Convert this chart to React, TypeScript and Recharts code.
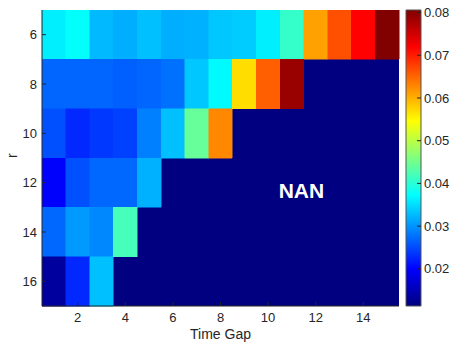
import React from "react";
import { ComposedChart, XAxis, YAxis, ReferenceArea, ReferenceDot, Scatter } from "recharts";

// grid: rows are r, columns are time gap 1..15, null = NaN
const timeGaps = [1, 2, 3, 4, 5, 6, 7, 8, 9, 10, 11, 12, 13, 14, 15];
const rValues = [6, 8, 10, 12, 14, 16];
const row6 = [0.0362, 0.0375, 0.0325, 0.0318, 0.033, 0.0318, 0.032, 0.0335, 0.0338, 0.0362, 0.0408, 0.061, 0.0666, 0.0719, 0.0805];
const row8 = [0.0269, 0.0269, 0.0269, 0.0265, 0.0269, 0.0276, 0.0335, 0.037, 0.0569, 0.0655, 0.0789, null, null, null, null];
const row10 = [0.0254, 0.0227, 0.0238, 0.0243, 0.0286, 0.033, 0.0442, 0.0627, null, null, null, null, null, null, null];
const row12 = [0.0198, 0.0254, 0.027, 0.027, 0.032, null, null, null, null, null, null, null, null, null, null];
const row14 = [0.027, 0.0304, 0.0292, 0.042, null, null, null, null, null, null, null, null, null, null, null];
const row16 = [0.0134, 0.0227, 0.033, null, null, null, null, null, null, null, null, null, null, null, null];
const rows = [row6, row8, row10, row12, row14, row16];

const xTicks = [2, 4, 6, 8, 10, 12, 14];
const yTicks = [6, 8, 10, 12, 14, 16];
const cbTicks = [0.02, 0.03, 0.04, 0.05, 0.06, 0.07, 0.08];
const C_MIN = 0.0113;
const C_MAX = 0.0806;
const NAN_LABEL = "NAN";
const nanSpot = { x: 11.4, y: 12.32 };

const AXIS = "#262626";
const FONT = "'Liberation Sans', Arial, sans-serif";

const clamp = (v: number) => Math.max(0, Math.min(1, v));
const jet = (v: number | null) => {
  const t = v == null ? 0 : clamp((v - C_MIN) / (C_MAX - C_MIN));
  const r = clamp(1.5 - Math.abs(4 * t - 3));
  const g = clamp(1.5 - Math.abs(4 * t - 2));
  const b = clamp(1.5 - Math.abs(4 * t - 1));
  return `rgb(${Math.round(r * 255)},${Math.round(g * 255)},${Math.round(b * 255)})`;
};

const cells = rValues.flatMap((r, i) =>
  timeGaps.map((gap, j) => ({ x: gap, y: r, value: rows[i][j] }))
);
const validCells = cells.filter((c) => c.value != null);

const NoTick = () => <g />;

export default function App() {
  return (
    <div style={{ position: "absolute", left: 0, top: 0, width: 454, height: 343, background: "#fff", fontFamily: FONT }}>
      <div style={{ position: "absolute", left: 0, top: 0 }}>
        <ComposedChart width={400} height={343} margin={{ top: 10, right: 1, left: 0, bottom: 0 }}>
          {/* NaN background = lowest colour */}
          <ReferenceArea
            x1={0.5}
            x2={15.5}
            y1={5}
            y2={17}
            fill={jet(null)}
            fillOpacity={1}
            stroke="none"
            ifOverflow="visible"
          />
          {validCells.map((c, k) => (
            <ReferenceArea
              key={k}
              x1={c.x - 0.5}
              x2={c.x + 0.5}
              y1={c.y - 1}
              y2={c.y + 1}
              fill={jet(c.value)}
              fillOpacity={1}
              stroke={jet(c.value)}
              strokeWidth={0.5}
              shapeRendering="crispEdges"
              ifOverflow="visible"
            />
          ))}
          <Scatter data={cells} dataKey="y" shape={NoTick} isAnimationActive={false} />
          <ReferenceDot
            x={nanSpot.x}
            y={nanSpot.y}
            r={0}
            stroke="none"
            fill="none"
            label={{ value: NAN_LABEL, position: "center", fill: "#fff", fontSize: 21, fontWeight: "bold", fontFamily: FONT }}
          />
          <XAxis
            type="number"
            dataKey="x"
            domain={[0.5, 15.5]}
            ticks={xTicks}
            height={37}
            tickSize={-4}
            tickMargin={11}
            stroke={AXIS}
            tick={{ fill: AXIS, fontSize: 13, fontFamily: FONT }}
            allowDataOverflow
            label={{ value: "Time Gap", position: "insideBottom", offset: 4, fill: AXIS, fontSize: 14, fontFamily: FONT }}
          />
          <XAxis
            xAxisId="top"
            orientation="top"
            type="number"
            domain={[0.5, 15.5]}
            ticks={xTicks}
            height={0}
            tickSize={-4}
            stroke={AXIS}
            tick={NoTick}
            allowDataOverflow
          />
          <YAxis
            type="number"
            dataKey="y"
            domain={[5, 17]}
            reversed
            ticks={yTicks}
            width={42}
            tickSize={-4}
            tickMargin={9}
            stroke={AXIS}
            tick={{ fill: AXIS, fontSize: 13, fontFamily: FONT }}
            allowDataOverflow
            label={{ value: "r", angle: -90, position: "insideLeft", offset: 12, fill: AXIS, fontSize: 14, fontFamily: FONT }}
          />
          <YAxis
            yAxisId="right"
            orientation="right"
            type="number"
            domain={[5, 17]}
            reversed
            ticks={yTicks}
            width={0}
            tickSize={-4}
            stroke={AXIS}
            tick={NoTick}
            allowDataOverflow
          />
        </ComposedChart>
      </div>
      <div style={{ position: "absolute", left: 400, top: 0 }}>
        <ComposedChart width={54} height={343} margin={{ top: 10, right: 0, left: 6, bottom: 37 }}>
          <defs>
            <linearGradient id="jetGrad" x1="0" y1="1" x2="0" y2="0">
              <stop offset="0%" stopColor="#000080" />
              <stop offset="12.5%" stopColor="#0000ff" />
              <stop offset="37.5%" stopColor="#00ffff" />
              <stop offset="62.5%" stopColor="#ffff00" />
              <stop offset="87.5%" stopColor="#ff0000" />
              <stop offset="100%" stopColor="#800000" />
            </linearGradient>
          </defs>
          <ReferenceArea x1={0} x2={1} y1={C_MIN} y2={C_MAX} fill="url(#jetGrad)" fillOpacity={1} stroke="#555" strokeWidth={1} ifOverflow="visible" />
          <Scatter data={[{ x: 0.5, v: C_MIN }]} dataKey="v" shape={NoTick} isAnimationActive={false} />
          <XAxis type="number" dataKey="x" domain={[0, 1]} hide />
          <YAxis
            orientation="right"
            type="number"
            dataKey="v"
            domain={[C_MIN, C_MAX]}
            ticks={cbTicks}
            width={33}
            tickSize={-4}
            tickMargin={7}
            stroke={AXIS}
            axisLine={false}
            tick={{ fill: AXIS, fontSize: 13, fontFamily: FONT }}
            tickFormatter={(v: number) => v.toFixed(2)}
            allowDataOverflow
          />
        </ComposedChart>
      </div>
    </div>
  );
}
